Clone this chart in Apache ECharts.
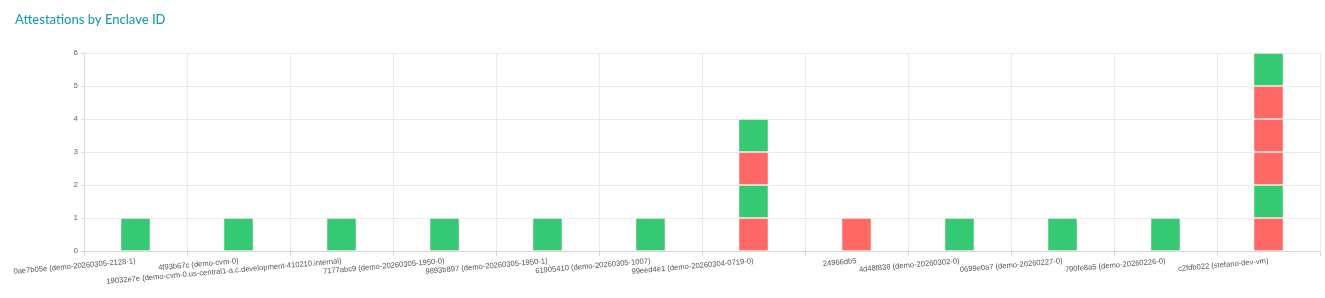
<!DOCTYPE html>
<html><head><meta charset="utf-8">
<script src="https://cdn.jsdelivr.net/npm/echarts@6/dist/echarts.min.js"></script>
<style>html,body{margin:0;padding:0;background:#fff}#c{width:1325px;height:298px}</style>
</head><body><div id="c"></div>
<script>
const categories = [
  "0ae7b05e (demo-20260305-2128-1)",
  "4f93b67c (demo-cvm-0)",
  "19032e7e (demo-cvm-0.us-central1-a.c.development-410210.internal)",
  "7177abc9 (demo-20260305-1950-0)",
  "9893b897 (demo-20260305-1950-1)",
  "61905410 (demo-20260305-1007)",
  "99eed4e1 (demo-20260304-0719-0)",
  "24966db5",
  "4d48f838 (demo-20260302-0)",
  "0699e0a7 (demo-20260227-0)",
  "790fe8a5 (demo-20260226-0)",
  "c2fdb022 (stefano-dev-vm)"
];
// status of each stacked attestation (level 1 = bottom); 'P' pass, 'F' fail, '' none
const level1 = ['P','P','P','P','P','P','F','F','P','P','P','F'];
const level2 = ['','','','','','','P','','','','','P'];
const level3 = ['','','','','','','F','','','','','F'];
const level4 = ['','','','','','','P','','','','','F'];
const level5 = ['','','','','','','','','','','','F'];
const level6 = ['','','','','','','','','','','','P'];
const yTicks = [0,1,2,3,4,5,6];

const GREEN = '#34c972', RED = '#ff6864';
const levels = [level1, level2, level3, level4, level5, level6];
const series = levels.map((lv, i) => ({
  name: 'Attestation ' + (i+1),
  type: 'bar',
  stack: 'total',
  barWidth: 30,
  data: lv.map(s => s ? { value: 1, itemStyle: { color: s === 'P' ? GREEN : RED } } : null),
  itemStyle: { borderColor: 'rgba(255,230,230,0.55)', borderWidth: 1 }
}));

const chart = echarts.init(document.getElementById('c'));
chart.setOption({
  animation: false,
  title: { text: 'Attestations by Enclave ID', left: 10, top: 8,
    textStyle: { color: '#1f9db0', fontSize: 13, fontWeight: 500, fontFamily: 'Lato' } },
  grid: { left: 84, right: 5, top: 53, bottom: 47 },
  xAxis: {
    type: 'category', data: categories,
    axisLine: { lineStyle: { color: '#d9d9d9' } },
    axisTick: { show: true, lineStyle: { color: '#d9d9d9' } },
    splitLine: { show: true, lineStyle: { color: '#ebebeb' } },
    axisLabel: { interval: 0, rotate: 5, fontSize: 7.6, color: '#555', fontFamily: 'Liberation Sans', margin: 10 }
  },
  yAxis: {
    type: 'value', min: yTicks[0], max: yTicks[yTicks.length-1], interval: 1,
    axisLine: { show: true, lineStyle: { color: '#d9d9d9' } },
    axisTick: { show: true, length: 3, lineStyle: { color: '#d9d9d9' } },
    splitLine: { lineStyle: { color: '#ebebeb' } },
    axisLabel: { fontSize: 8, color: '#666', fontFamily: 'Liberation Sans', margin: 6 }
  },
  series
});
</script></body></html>
